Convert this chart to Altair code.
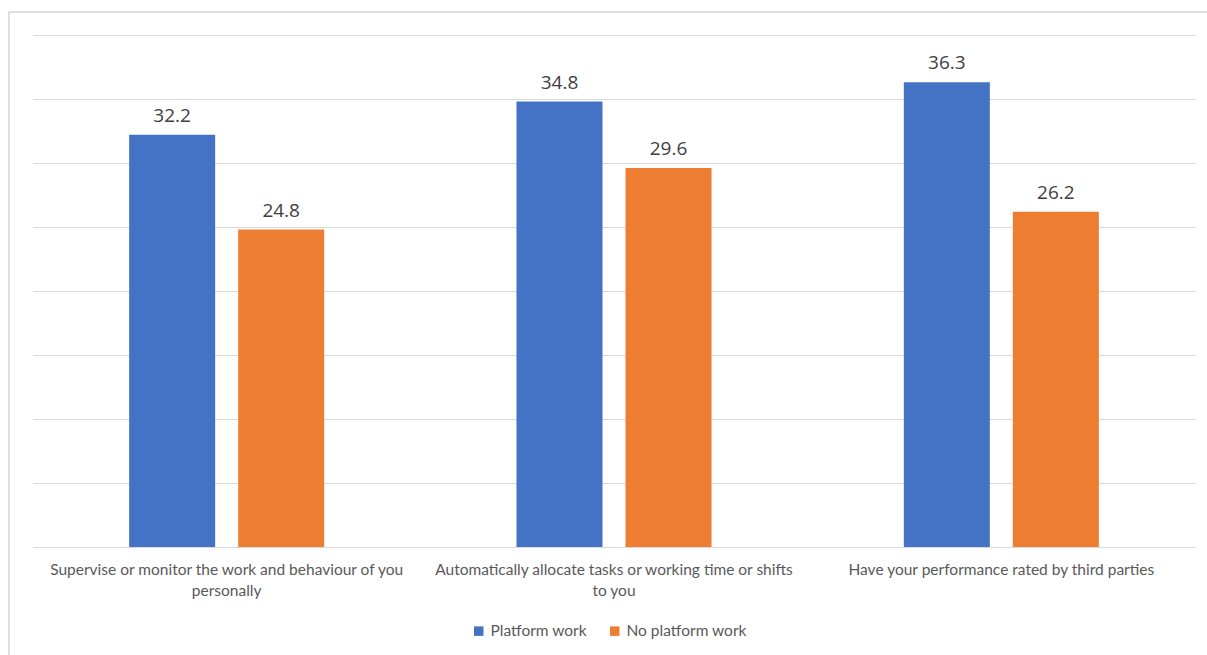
import altair as alt
import pandas as pd

categories = [
    "Supervise or monitor the work and behaviour of you personally",
    "Automatically allocate tasks or working time or shifts to you",
    "Have your performance rated by third parties",
]
label_lines = [
    ["Supervise or monitor the work and behaviour of you", "personally"],
    ["Automatically allocate tasks or working time or shifts", "to you"],
    ["Have your performance rated by third parties"],
]
series = ["Platform work", "No platform work"]
platform = [32.2, 34.8, 36.3]
no_platform = [24.8, 29.6, 26.2]
colors = ["#4472C4", "#ED7D31"]
y_ticks = [0, 5, 10, 15, 20, 25, 30, 35, 40]

rows = []
for c, a, b in zip(categories, platform, no_platform):
    rows.append({"category": c, "series": series[0], "value": a})
    rows.append({"category": c, "series": series[1], "value": b})
df = pd.DataFrame(rows)

label_map = {c: l for c, l in zip(categories, label_lines)}
expr_parts = []
for c, l in label_map.items():
    arr = "[" + ",".join("'" + s + "'" for s in l) + "]"
    expr_parts.append(f"datum.label == '{c}' ? {arr}")
label_expr = " : ".join(expr_parts) + " : datum.label"

W, H = 1162, 512

x = alt.X("category:N", sort=categories, title=None,
          scale=alt.Scale(paddingInner=0, paddingOuter=0),
          axis=alt.Axis(labelAngle=0, domain=False, ticks=False, labelPadding=15,
                        labelFont="Lato", labelFontSize=15.5, labelColor="#595959",
                        labelLineHeight=21, labelExpr=label_expr, labelLimit=600))
xo = alt.XOffset("series:N", sort=series,
                 scale=alt.Scale(paddingInner=0.211, paddingOuter=0.882))
y = alt.Y("value:Q", title=None,
          scale=alt.Scale(domain=[0, 40], nice=False),
          axis=alt.Axis(values=y_ticks, labels=False, ticks=False, domain=False,
                        grid=True, gridColor="#D9D9D9", gridWidth=1))
color = alt.Color("series:N", sort=series,
                  scale=alt.Scale(domain=series, range=colors),
                  legend=alt.Legend(title=None, orient="none", direction="horizontal",
                                    legendX=438, legendY=588, symbolType="square",
                                    symbolSize=90, symbolStrokeWidth=0,
                                    labelFont="Lato", labelFontSize=15.5,
                                    labelColor="#595959", columnPadding=20,
                                    labelOffset=4))

bars = alt.Chart(df).mark_bar().encode(x=x, xOffset=xo, y=y, color=color)
text = alt.Chart(df).mark_text(baseline="alphabetic", dy=-13, font="Open Sans",
                               fontSize=19, color="#404040").encode(
    x=x, xOffset=xo, y=y, text=alt.Text("value:Q", format=".1f"))

border_df = pd.DataFrame({"k": [0]})
top_line = alt.Chart(border_df).mark_rule(color="#BFBFBF", strokeWidth=1).encode(
    x=alt.value(-24), x2=alt.value(W + 12), y=alt.value(-23))
left_line = alt.Chart(border_df).mark_rule(color="#BFBFBF", strokeWidth=1).encode(
    x=alt.value(-24), y=alt.value(-23), y2=alt.value(H + 120))

chart = alt.layer(bars, text, top_line, left_line).properties(
    width=W, height=H,
    autosize=alt.AutoSizeParams(type="none"),
    padding={"left": 33, "top": 35, "right": 12, "bottom": 108},
).configure(background="white").configure_view(stroke="transparent", strokeWidth=0)

chart.save("out.html", embed_options={"renderer": "svg", "actions": False})
